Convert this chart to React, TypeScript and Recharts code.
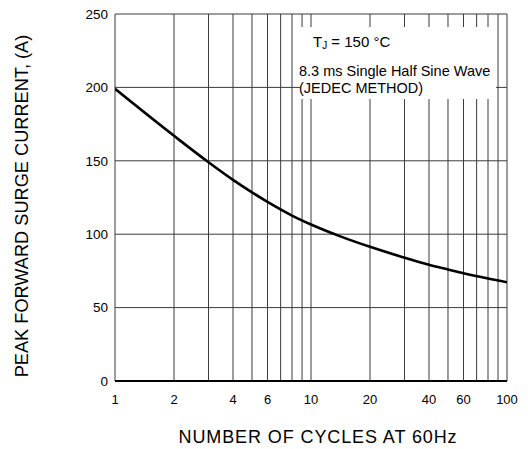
import { LineChart, Line, XAxis, YAxis, ReferenceLine } from 'recharts'

const cycles = [1, 2, 3, 4, 5, 6, 8, 10, 14, 20, 30, 40, 50, 60, 80, 100]
const surgeCurrent = [199, 167, 149, 137, 128.5, 122, 112.7, 106.6, 98.7, 91.4, 84, 79.2, 76, 73.4, 69.8, 67.3]
const xTicks = [1, 2, 4, 6, 10, 20, 40, 60, 100]
const yTicks = [0, 50, 100, 150, 200, 250]
const xGrid = [1, 2, 3, 4, 5, 6, 7, 8, 9, 10, 20, 30, 40, 50, 60, 70, 80, 90, 100]

const data = cycles.map((c, i) => ({ cycles: c, current: surgeCurrent[i] }))

const FONT = '"Liberation Sans", Arial, Helvetica, sans-serif'
const GRID = '#3a3a3a'

export default function App() {
  return (
    <div style={{ position: 'absolute', left: 0, top: 0, width: 528, height: 449, background: '#fff', fontFamily: FONT }}>
      <LineChart width={528} height={449} data={data} margin={{ top: 14, right: 21, bottom: 38, left: 75 }}>
        {xGrid.map((v) => (
          <ReferenceLine key={'x' + v} x={v} stroke={GRID} strokeWidth={1} ifOverflow="visible" />
        ))}
        {yTicks.map((v) => (
          <ReferenceLine key={'y' + v} y={v} stroke={v === 0 ? '#000' : GRID} strokeWidth={v === 0 ? 2 : 1} ifOverflow="visible" />
        ))}
        <XAxis
          dataKey="cycles"
          type="number"
          scale="log"
          domain={[1, 100]}
          ticks={xTicks}
          allowDataOverflow
          axisLine={false}
          tickLine={false}
          tickMargin={8}
          height={30}
          tick={{ fill: '#000', fontSize: 13, fontFamily: FONT }}
        />
        <YAxis
          type="number"
          domain={[0, 250]}
          ticks={yTicks}
          axisLine={false}
          tickLine={false}
          tickMargin={1}
          width={40}
          tick={{ fill: '#000', fontSize: 13.5, fontFamily: FONT }}
        />
        <Line
          dataKey="current"
          type="monotone"
          stroke="#000"
          strokeWidth={2.6}
          dot={false}
          isAnimationActive={false}
        />
      </LineChart>

      <div style={{ position: 'absolute', left: 300, top: 27, width: 196, height: 72, background: '#fff' }} />
      <div style={{ position: 'absolute', left: 313, top: 33, fontSize: 15, color: '#000', whiteSpace: 'nowrap' }}>
        T<sub style={{ fontSize: 10, verticalAlign: 'baseline', position: 'relative', top: 2 }}>J</sub> = 150 °C
      </div>
      <div style={{ position: 'absolute', left: 299, top: 63, fontSize: 14.5, lineHeight: '17px', color: '#000', whiteSpace: 'nowrap' }}>
        8.3 ms Single Half Sine Wave
        <br />
        (JEDEC METHOD)
      </div>

      <div
        style={{
          position: 'absolute',
          left: 22,
          top: 206,
          transform: 'translate(-50%, -50%) rotate(-90deg)',
          fontSize: 18.2,
          whiteSpace: 'nowrap',
          color: '#000',
        }}
      >
        PEAK FORWARD SURGE CURRENT, (A)
      </div>
      <div
        style={{
          position: 'absolute',
          left: 318,
          top: 437,
          transform: 'translate(-50%, -50%)',
          fontSize: 18,
          letterSpacing: 0.9,
          whiteSpace: 'nowrap',
          color: '#000',
        }}
      >
        NUMBER OF CYCLES AT 60Hz
      </div>
    </div>
  )
}
